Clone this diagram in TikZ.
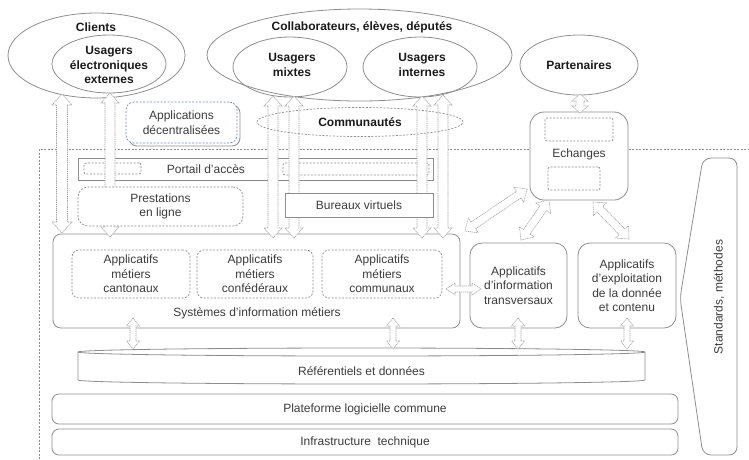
\documentclass[tikz,border=0pt]{standalone}
\usepackage{fontspec}
\setmainfont{Liberation Sans}
\usetikzlibrary{calc,shapes.geometric}
\definecolor{lg}{HTML}{8E8E8E}
\definecolor{ag}{HTML}{A6A6A6}
\definecolor{tx}{HTML}{3C3C3C}
\definecolor{bd}{HTML}{1A1A1A}
\definecolor{bl}{HTML}{7C86C4}
% hollow double-headed block arrow: #1,#2 end points, #3 shaft half width, #4 head half width, #5 head length
\newcommand\hollowarr[5]{%
  \path[arr] (#1) -- ($(#1)!#5pt!(#2)!#4pt!90:(#2)$) -- ($(#1)!#5pt!(#2)!#3pt!90:(#2)$)
    -- ($(#2)!#5pt!(#1)!#3pt!-90:(#1)$) -- ($(#2)!#5pt!(#1)!#4pt!-90:(#1)$) -- (#2)
    -- ($(#2)!#5pt!(#1)!#4pt!90:(#1)$) -- ($(#2)!#5pt!(#1)!#3pt!90:(#1)$)
    -- ($(#1)!#5pt!(#2)!#3pt!-90:(#2)$) -- ($(#1)!#5pt!(#2)!#4pt!-90:(#2)$) -- cycle;}
\begin{document}
\begin{tikzpicture}[x=1pt,y=-1pt,
  ln/.style={draw=lg, line width=0.8pt},
  dsh/.style={draw=lg, line width=0.7pt, dash pattern=on 2pt off 1.5pt},
  arr/.style={draw=ag, fill=white, line width=0.6pt, dash pattern=on 1.2pt off 0.7pt},
  txt/.style={text=tx, font=\fontsize{12}{14.5}\selectfont, align=center},
  lbl/.style={txt, inner sep=0pt},
  blbl/.style={text=bd, font=\fontsize{12}{14.5}\selectfont\bfseries, align=center, inner sep=0pt},
  ell/.style={ellipse, ln, inner sep=0pt},
  rbox/.style={rectangle, ln, inner sep=0pt, fill=white, txt},
  dbox/.style={rectangle, dsh, inner sep=0pt, rounded corners=7pt, txt}]
\useasboundingbox (0,0) rectangle (749,459);

% dashed boundary of the information system
\draw[dsh] (39,459) -- (39,149) -- (749,149);

% ---- top ellipses
\node[ell, minimum width=177pt, minimum height=85pt] (clients) at (96.5,55.5) {};
\node[blbl] (clientsT) at (96,27) {Clients};
\node[ell, minimum width=114pt, minimum height=58pt] (uee) at (109,64) {};
\node[blbl] (ueeT) at (109,65) {Usagers\\électroniques\\externes};
\node[ell, minimum width=305pt, minimum height=92pt] (collab) at (359.5,55) {};
\node[blbl] (collabT) at (362,27) {Collaborateurs, élèves, députés};
\node[ell, minimum width=114pt, minimum height=60pt] (mixtes) at (290,67) {};
\node[blbl] (mixtesT) at (292,65) {Usagers\\mixtes};
\node[ell, minimum width=114pt, minimum height=60pt] (internes) at (420,67) {};
\node[blbl] (internesT) at (422,65) {Usagers\\internes};
\node[ell, minimum width=118pt, minimum height=60pt, text=bd, font=\fontsize{12}{14.5}\selectfont\bfseries] (part) at (579,65) {Partenaires};

% ---- main boxes
\node[rbox, rounded corners=8pt, minimum width=407pt, minimum height=94pt] (sim) at (256.5,281) {};
\node[lbl] (simT) at (257,313) {Systèmes d'information métiers};
\node[dbox, minimum width=118pt, minimum height=48pt] (cant) at (131,274) {Applicatifs\\métiers\\cantonaux};
\node[dbox, minimum width=116pt, minimum height=48pt] (conf) at (255,274) {Applicatifs\\métiers\\confédéraux};
\node[dbox, minimum width=120pt, minimum height=48pt] (comu) at (382,274) {Applicatifs\\métiers\\communaux};

\node[rbox, rounded corners=12pt, minimum width=97pt, minimum height=85pt] (trans) at (518.5,285.5) {Applicatifs\\d'information\\transversaux};
\node[rbox, rounded corners=12pt, minimum width=98pt, minimum height=85pt] (expl) at (627,285.5) {Applicatifs\\d'exploitation\\de la donnée\\et contenu};

\node[rbox, rounded corners=14pt, minimum width=98pt, minimum height=88pt] (ech) at (579,156) {};
\node[lbl] (echT) at (579,154) {Echanges};
\node[dbox, rounded corners=2pt, minimum width=68pt, minimum height=23pt] (echA) at (579,129.5) {};
\node[dbox, rounded corners=2pt, minimum width=52pt, minimum height=23pt] (echB) at (574,178.5) {};

% standards shape
\draw[ln, rounded corners=8pt] (680,298) -- (703,158) -- (737,158) -- (737,455) -- (703,455) -- cycle;
\node[lbl, rotate=90] (stdT) at (719,297) {Standards, méthodes};

% referentiels (flat cylinder)
\draw[ln, fill=white] (78,352) -- (78,380) arc[start angle=180, end angle=360, x radius=283.5pt, y radius=4pt]
  -- (645,352) arc[start angle=0, end angle=180, x radius=283.5pt, y radius=4pt] -- cycle;
\draw[ln] (78,352) arc[start angle=180, end angle=360, x radius=283.5pt, y radius=4pt];
\node[lbl] (refT) at (361.5,371) {Référentiels et données};

\node[rbox, rounded corners=7pt, minimum width=626pt, minimum height=30pt] (plat) at (365,409) {Plateforme logicielle commune};
\node[rbox, rounded corners=7pt, minimum width=626pt, minimum height=26pt] (infra) at (365,442) {Infrastructure\ \ technique};

% portail bar
\node[rectangle, ln, minimum width=355pt, minimum height=22pt, inner sep=0pt] (portail) at (255.5,169) {};
\node[lbl] (portailT) at (206,169) {Portail d'accès};
\node[dbox, rounded corners=2pt, minimum width=57pt, minimum height=11pt] (portA) at (112.5,168.5) {};
\node[dbox, rounded corners=2pt, minimum width=146pt, minimum height=12pt] (portB) at (356,169) {};

% ---- arrow end points
\coordinate (a1t) at (62,94);   \coordinate (a1b) at (62,233);
\coordinate (a2t) at (110,93);  \coordinate (a2b) at (110,237);
\coordinate (a3t) at (273,96);  \coordinate (a3b) at (273,238);
\coordinate (a4t) at (294,96);  \coordinate (a4b) at (294,238);
\coordinate (a5t) at (422,96);  \coordinate (a5b) at (422,238);
\coordinate (a6t) at (443,95);  \coordinate (a6b) at (443,238);
\coordinate (apt) at (580,94);  \coordinate (apb) at (580,113);
\coordinate (d1a) at (527,189); \coordinate (d1b) at (465,231);
\coordinate (d2a) at (549,200); \coordinate (d2b) at (521,240);
\coordinate (d3a) at (593,202); \coordinate (d3b) at (629,239);
\coordinate (h1a) at (446,289); \coordinate (h1b) at (481,289);
\coordinate (v1a) at (133,318); \coordinate (v1b) at (133,349);
\coordinate (v2a) at (393,318); \coordinate (v2b) at (393,349);
\coordinate (v3a) at (518,318); \coordinate (v3b) at (518,349);
\coordinate (v4a) at (627,318); \coordinate (v4b) at (627,349);

\hollowarr{a1t}{a1b}{5.5}{10}{11}
\hollowarr{a2t}{a2b}{5}{9}{10}
\hollowarr{a3t}{a3b}{5}{9}{10}
\hollowarr{a4t}{a4b}{5}{9}{10}
\hollowarr{a5t}{a5b}{5}{9}{10}
\hollowarr{a6t}{a6b}{5}{9}{10}
\hollowarr{apt}{apb}{4}{8}{7}
\hollowarr{d1a}{d1b}{4}{9}{10}
\hollowarr{d2a}{d2b}{4}{9}{10}
\hollowarr{d3a}{d3b}{4}{9}{10}
\hollowarr{h1a}{h1b}{3}{6}{9}
\hollowarr{v1a}{v1b}{3}{6.5}{8}
\hollowarr{v2a}{v2b}{3}{6.5}{8}
\hollowarr{v3a}{v3b}{3}{6.5}{8}
\hollowarr{v4a}{v4b}{3}{6.5}{8}

% ---- boxes in front of the arrows
\node[dbox, fill=white, rounded corners=10pt, minimum width=165pt, minimum height=39pt] (prest) at (160.5,206.5) {Prestations\\en ligne};
\node[rbox, minimum width=148pt, minimum height=24pt] (bur) at (359,205) {Bureaux virtuels};

\node[rbox, rounded corners=8pt, minimum width=111pt, minimum height=41pt] (appS) at (184.5,125.5) {};
\node[dbox, draw=bl, fill=white, rounded corners=8pt, minimum width=111pt, minimum height=41pt] (app) at (181.5,122.5) {Applications\\décentralisées};

\node[ellipse, dsh, inner sep=0pt, minimum width=206pt, minimum height=29pt, text=bd, font=\fontsize{12}{14.5}\selectfont\bfseries] (comm) at (360,122) {Communautés};
\end{tikzpicture}
\end{document}
